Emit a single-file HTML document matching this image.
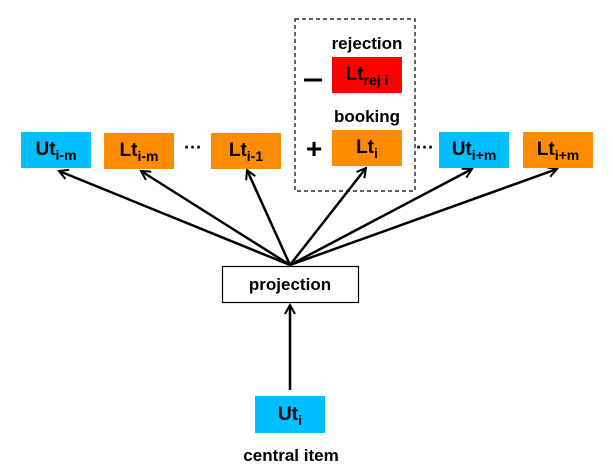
<!DOCTYPE html>
<html><head><style>
body{margin:0;width:613px;height:472px;background:#fff;overflow:hidden;position:relative;font-family:"Liberation Sans",sans-serif;}
.b{position:absolute;height:36px;line-height:36px;text-align:center;font-weight:bold;font-size:19px;color:#000;box-sizing:border-box;}
.b sub{font-size:14px;vertical-align:-5px;line-height:0;}
.u{background:#00BFFF;}
.l{background:#FF8C00;}
.t{position:absolute;font-weight:bold;font-size:17px;transform:translate(-50%,-50%);white-space:nowrap;}
</style></head><body>
<svg width="613" height="472" style="position:absolute;left:0;top:0">
<defs><marker id="a" markerWidth="12" markerHeight="12" refX="10" refY="6" orient="auto" markerUnits="userSpaceOnUse"><path d="M1,1 L10,6 L1,11" fill="none" stroke="#000" stroke-width="2"/></marker></defs>
<rect x="295" y="19" width="120" height="172" fill="none" stroke="#000" stroke-dasharray="4,3" stroke-width="1.2"/>
<g stroke="#000" stroke-width="2.5" marker-end="url(#a)">
<line x1="290" y1="265" x2="59" y2="171"/>
<line x1="290" y1="265" x2="141" y2="171"/>
<line x1="290" y1="265" x2="247" y2="170"/>
<line x1="290" y1="265" x2="366" y2="168"/>
<line x1="290" y1="265" x2="472" y2="169"/>
<line x1="290" y1="265" x2="557" y2="169"/>
<line x1="290" y1="390" x2="290" y2="305"/>
</g>
<rect x="222.5" y="266.5" width="136" height="36" fill="#fff" stroke="#000" stroke-width="1.2"/>
<line x1="304" y1="80" x2="322" y2="80" stroke="#000" stroke-width="3"/>
</svg>
<div class="b u" style="left:21px;top:132px;width:70px">Ut<sub>i-m</sub></div>
<div class="b l" style="left:104px;top:133px;width:70px">Lt<sub>i-m</sub></div>
<div class="b l" style="left:211px;top:133px;width:70px">Lt<sub>i-1</sub></div>
<div class="b l" style="left:332px;top:130px;width:70px">Lt<sub>i</sub></div>
<div class="b" style="left:332px;top:57px;width:70px;background:#FF0000">Lt<sub>rej i</sub></div>
<div class="b u" style="left:439px;top:132px;width:70px">Ut<sub>i+m</sub></div>
<div class="b l" style="left:523px;top:132px;width:70px">Lt<sub>i+m</sub></div>
<div class="b u" style="left:255px;top:396px;width:70px;height:37px;line-height:37px">Ut<sub>i</sub></div>
<div class="t" style="left:367px;top:44px">rejection</div>
<div class="t" style="left:367px;top:117px">booking</div>
<div class="t" style="left:314px;top:149px;font-size:28px">+</div>
<div class="t" style="left:193px;top:148px;font-size:18px">···</div>
<div class="t" style="left:425px;top:148px;font-size:18px">···</div>
<div class="t" style="left:290px;top:285px;font-size:17px">projection</div>
<div class="t" style="left:291px;top:456px">central item</div>
</body></html>
